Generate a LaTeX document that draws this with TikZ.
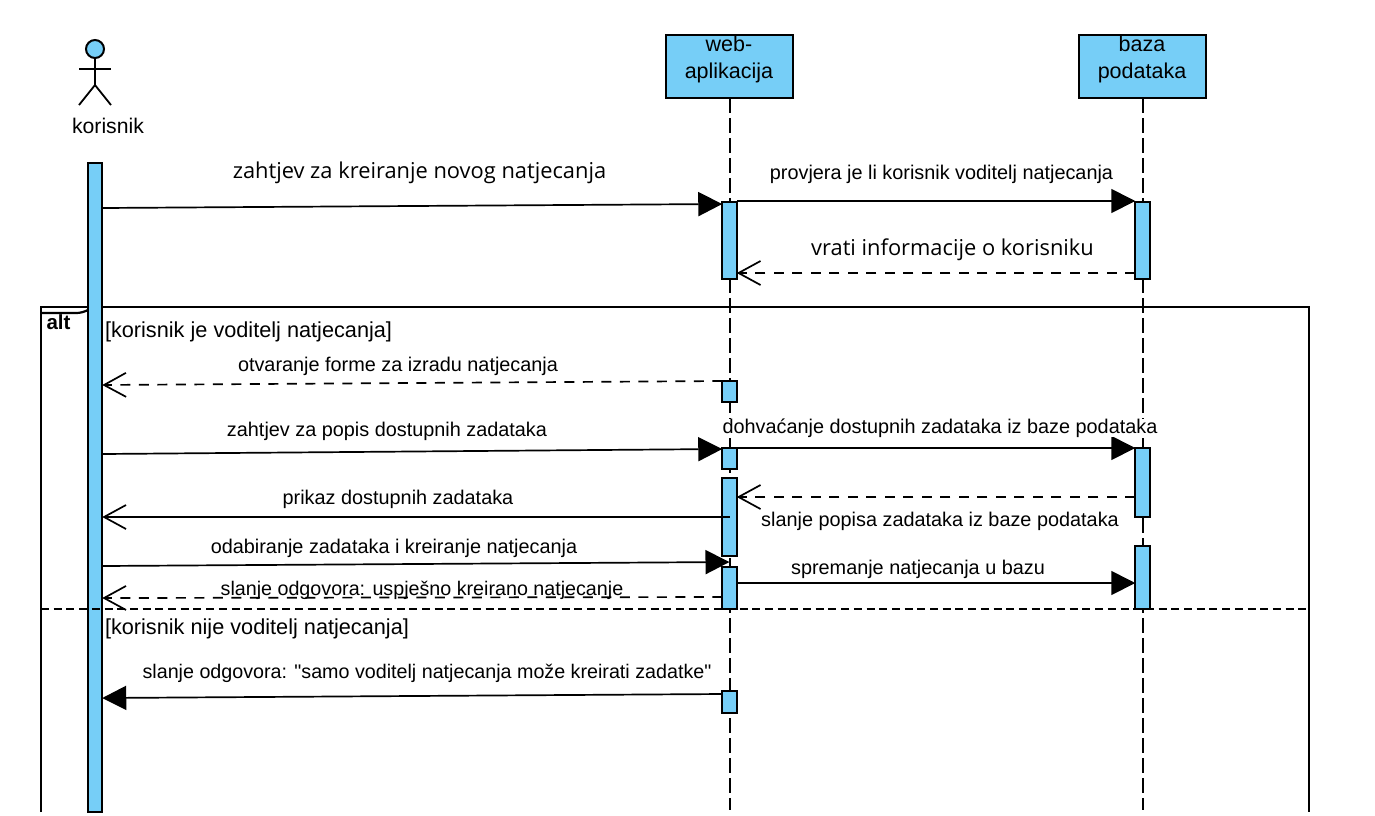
\documentclass[tikz,border=0pt]{standalone}
\usepackage{fontspec}
\setmainfont{Liberation Sans}[Ligatures=TeXOff]
\newfontfamily\notof{Open Sans}
\usetikzlibrary{arrows.meta,calc}
\definecolor{barblue}{HTML}{76CEF7}
\tikzset{
  every node/.style={inner sep=0pt,outer sep=0pt},
  lbl/.style={font=\fontsize{19.85}{22}\selectfont,anchor=base},
  lbls/.style={font=\fontsize{19.7}{22}\selectfont,anchor=base},
  lblb/.style={font=\fontsize{21.7}{24}\selectfont,anchor=base west},
  bigl/.style={font=\notof\fontsize{21.85}{24}\selectfont,anchor=base},
  head/.style={draw=black,fill=barblue,line width=2pt,minimum width=127pt,minimum height=63pt},
  headtxt/.style={align=center,font=\fontsize{21.5}{27}\selectfont,anchor=base},
  bar/.style={draw=black,fill=barblue,line width=2pt,minimum width=14.5pt},
  life/.style={line width=2pt,dash pattern=on 14.5pt off 5.5pt},
  msg/.style={line width=1.7pt},
  solidhd/.style={msg,-{Triangle[length=24pt,width=24pt]}},
  openhd/.style={msg,-{Straight Barb[length=22pt,width=24pt,line width=1.7pt]}},
  dashmsg/.style={openhd,dash pattern=on 10pt off 8.5pt},
  frameln/.style={line width=2.2pt}
}
\begin{document}
\begin{tikzpicture}[x=1pt,y=-1pt]
\useasboundingbox (0,0) rectangle (1375,815);
% frame
\coordinate (fTL) at (41,307);
\coordinate (fBL) at (41,812);
\coordinate (fTR) at (1309,307);
\coordinate (fBR) at (1309,812);
\draw[frameln] (fBL) -- (fTL) -- (fTR) -- (fBR);
\draw[frameln] (41,313) -- (76,313) .. controls (80,313) and (84,312) .. (88,310);
\node[font=\bfseries\fontsize{20.5}{22}\selectfont,anchor=base] at (58.5,329) {alt};
% headers
\node[head] (web) at (729.5,66.5) {};
\node[head] (db) at (1142.5,66.5) {};
\node[headtxt] at (729,51) {web-};
\node[headtxt] at (729,78) {aplikacija};
\node[headtxt] at (1142,51) {baza};
\node[headtxt] at (1142,78) {podataka};
\coordinate (webend) at (729.5,810);
\coordinate (dbend) at (1142.5,810);
\draw[life] (web.south) -- (webend);
\draw[life] (db.south) -- (dbend);
% actor
\node[circle,draw=black,fill=barblue,line width=2pt,minimum size=18pt] (ahead) at (95,49) {};
\coordinate (hip) at (95,85);
\draw[line width=1.8pt] (ahead.south) -- (hip);
\draw[line width=1.8pt] (79,69) -- (111,69);
\draw[line width=1.8pt] (79,105) -- (hip) -- (111,105);
\node[font=\fontsize{21.2}{24}\selectfont,anchor=base] (actor) at (108,133) {korisnik};
% activation bars
\node[bar,minimum height=649pt] (k) at (95,487.5) {};
\node[bar,minimum height=77pt] (w1) at (729.5,240.5) {};
\node[bar,minimum height=21pt] (w2) at (729.5,391.5) {};
\node[bar,minimum height=21pt] (w3) at (729.5,458.5) {};
\node[bar,minimum height=78pt] (w4) at (729.5,517) {};
\node[bar,minimum height=42pt] (w5) at (729.5,588) {};
\node[bar,minimum height=22pt] (w6) at (729.5,702) {};
\node[bar,minimum height=77pt] (d1) at (1142.5,240.5) {};
\node[bar,minimum height=69pt] (d2) at (1142.5,482.5) {};
\node[bar,minimum height=63pt] (d3) at (1142.5,577.5) {};
% separator
\draw[line width=2pt,dash pattern=on 8pt off 4.7pt] (41,608.5) -- (1309,608.5);
% messages
\draw[solidhd] (k.east |- 0,208) -- (w1.west |- 0,204);
\draw[solidhd] (w1.north east |- 0,201) -- (d1.north west |- 0,201);
\draw[dashmsg] (d1.west |- 0,273) -- (w1.east |- 0,273);
\draw[dashmsg] (w2.west |- 0,381) -- (k.east |- 0,385);
\draw[solidhd] (k.east |- 0,454) -- (w3.west |- 0,449);
\draw[solidhd] (w3.north east) -- (d2.north west);
\draw[dashmsg] (d2.west |- 0,497) -- (w4.east |- 0,497);
\draw[openhd] (w4.center |- 0,517) -- (k.east |- 0,517);
\draw[solidhd] (k.east |- 0,566) -- (w4.center |- 0,562);
\draw[solidhd] (w5.east |- 0,583) -- (d3.west |- 0,583);
\draw[dashmsg] (w5.west |- 0,597) -- (k.east |- 0,598);
\draw[solidhd] (w6.west |- 0,694) -- (k.east |- 0,698);
% labels
\node[bigl] at (419.5,178) {zahtjev za kreiranje novog natjecanja};
\node[bigl] at (952.5,255) {vrati informacije o korisniku};
\node[lbl] at (941.5,179) {provjera je li korisnik voditelj natjecanja};
\node[lblb] at (105,337) {[korisnik je voditelj natjecanja]};
\node[lbl] at (398,371) {otvaranje forme za izradu natjecanja};
\node[lbl] at (387,436) {zahtjev za popis dostupnih zadataka};
\node[lbl,fill=white,text depth=4pt,text height=14pt] at (940,433) {dohvaćanje dostupnih zadataka iz baze podataka};
\node[lbl] at (398,504) {prikaz dostupnih zadataka};
\node[lbl] at (940,526) {slanje popisa zadataka iz baze podataka};
\node[lbl] at (394,553) {odabiranje zadataka i kreiranje natjecanja};
\node[lbl] at (918,574) {spremanje natjecanja u bazu};
\node[lbls] at (422,595) {slanje odgovora: uspješno kreirano natjecanje};
\node[lblb] at (105,634) {[korisnik nije voditelj natjecanja]};
\node[lbls] at (427,678) {slanje odgovora: "samo voditelj natjecanja može kreirati zadatke"};
\end{tikzpicture}
\end{document}
